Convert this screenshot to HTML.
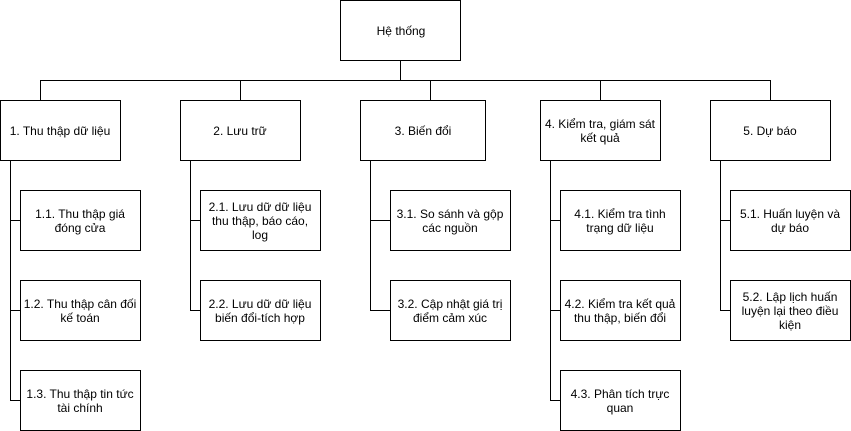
<!DOCTYPE html>
<html><head><meta charset="utf-8"><style>
body{margin:0;background:#fff;}
svg{display:block;font-family:"Liberation Sans",Arial,sans-serif;font-size:12px;}
text{fill:#000;text-anchor:middle;}
</style></head><body>
<svg width="851" height="431" viewBox="0 0 851 431" xmlns="http://www.w3.org/2000/svg">
<g stroke="#000" stroke-width="1" fill="none" shape-rendering="crispEdges">
<path d="M400.5 60V80M40.5 80.5H770.5M40.5 80V100M240.5 80V100M430.5 80V100M600.5 80V100M770.5 80V100"/>
<path d="M10.5 160V400M10 220.5H20M10 310.5H20M10 400.5H20"/>
<path d="M190.5 160V310M190 220.5H200M190 310.5H200"/>
<path d="M370.5 160V310M370 220.5H390M370 310.5H390"/>
<path d="M550.5 160V400M550 220.5H560M550 310.5H560M550 400.5H560"/>
<path d="M720.5 160V310M720 220.5H730M720 310.5H730"/>
<g fill="#fff">
<rect x="340.5" y="0.5" width="120" height="60"/>
<rect x="0.5" y="100.5" width="120" height="60"/>
<rect x="180.5" y="100.5" width="120" height="60"/>
<rect x="360.5" y="100.5" width="125" height="60"/>
<rect x="540.5" y="100.5" width="120" height="60"/>
<rect x="710.5" y="100.5" width="120" height="60"/>
<rect x="20.5" y="190.5" width="120" height="60"/>
<rect x="20.5" y="280.5" width="120" height="60"/>
<rect x="20.5" y="370.5" width="120" height="60"/>
<rect x="200.5" y="190.5" width="120" height="60"/>
<rect x="200.5" y="280.5" width="120" height="60"/>
<rect x="390.5" y="190.5" width="120" height="60"/>
<rect x="390.5" y="280.5" width="120" height="60"/>
<rect x="560.5" y="190.5" width="120" height="60"/>
<rect x="560.5" y="280.5" width="120" height="60"/>
<rect x="560.5" y="370.5" width="120" height="60"/>
<rect x="730.5" y="190.5" width="120" height="60"/>
<rect x="730.5" y="280.5" width="120" height="60"/>
</g></g>
<text x="401" y="35">Hệ thống</text>
<text x="60" y="135">1. Thu thập dữ liệu</text>
<text x="240" y="135">2. Lưu trữ</text>
<text x="423" y="135">3. Biến đổi</text>
<text x="600" y="128">4. Kiểm tra, giám sát</text><text x="600" y="142">kết quả</text>
<text x="770" y="135">5. Dự báo</text>
<text x="80" y="218">1.1. Thu thập giá</text><text x="80" y="232">đóng cửa</text>
<text x="80" y="308">1.2. Thu thập cân đối</text><text x="80" y="322">kế toán</text>
<text x="80" y="398">1.3. Thu thập tin tức</text><text x="80" y="412">tài chính</text>
<text x="260" y="211">2.1. Lưu dữ dữ liệu</text><text x="260" y="225">thu thập, báo cáo,</text><text x="260" y="239">log</text>
<text x="260" y="308">2.2. Lưu dữ dữ liệu</text><text x="260" y="322">biến đổi-tích hợp</text>
<text x="450" y="218">3.1. So sánh và gộp</text><text x="450" y="232">các nguồn</text>
<text x="450" y="308">3.2. Cập nhật giá trị</text><text x="450" y="322">điểm cảm xúc</text>
<text x="620" y="218">4.1. Kiểm tra tình</text><text x="620" y="232">trạng dữ liệu</text>
<text x="620" y="308">4.2. Kiểm tra kết quả</text><text x="620" y="322">thu thập, biến đổi</text>
<text x="620" y="398">4.3. Phân tích trực</text><text x="620" y="412">quan</text>
<text x="790" y="218">5.1. Huấn luyện và</text><text x="790" y="232">dự báo</text>
<text x="790" y="301">5.2. Lập lịch huấn</text><text x="790" y="315">luyện lại theo điều</text><text x="790" y="329">kiện</text>
</svg>
</body></html>
